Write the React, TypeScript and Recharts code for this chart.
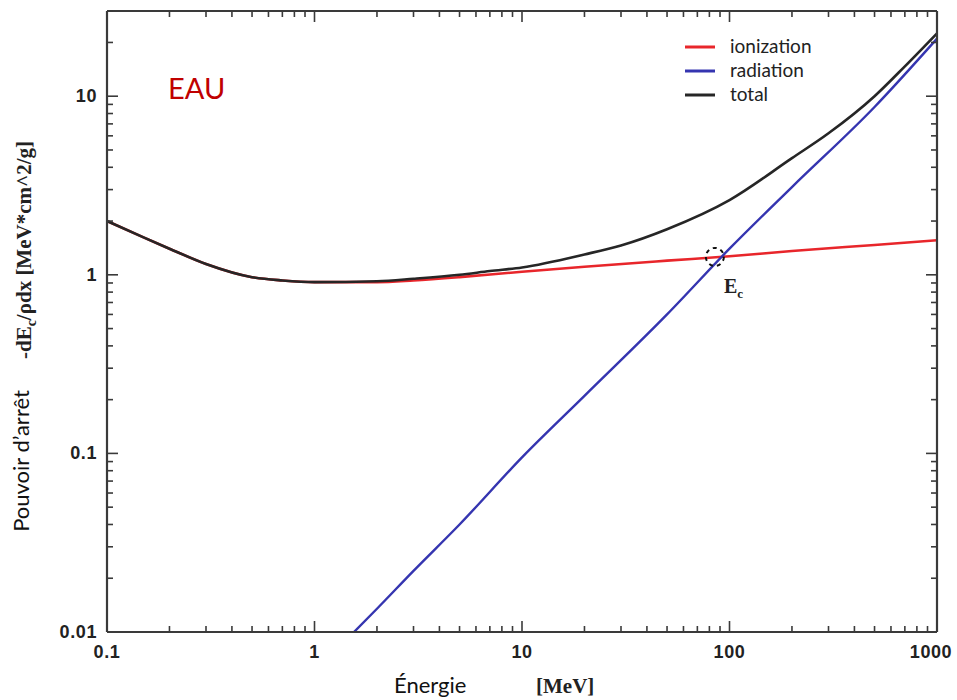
import React from "react";
import {
  Line,
  LineChart,
  ReferenceDot,
  XAxis,
  YAxis,
} from "recharts";

// energy [MeV] / stopping power [MeV cm^2/g]
const ionEnergy = [0.1, 0.15, 0.2, 0.3, 0.5, 0.7, 1, 2, 3, 5, 10, 20, 50, 100, 200, 500, 1000];
const ionValues = [2.0, 1.62, 1.4, 1.15, 0.97, 0.93, 0.91, 0.91, 0.93, 0.97, 1.04, 1.11, 1.2, 1.27, 1.36, 1.47, 1.56];

const radEnergy = [1.55, 2, 3, 5, 10, 20, 50, 100, 200, 500, 1000];
const radValues = [0.01, 0.0135, 0.022, 0.04, 0.095, 0.21, 0.6, 1.4, 3.1, 8.7, 21];

const totEnergy = [0.1, 0.15, 0.2, 0.3, 0.5, 0.7, 1, 2, 3, 5, 7, 10, 20, 30, 50, 100, 200, 300, 500, 700, 1000];
const totValues = [2.0, 1.62, 1.4, 1.15, 0.97, 0.93, 0.91, 0.92, 0.95, 1.0, 1.05, 1.1, 1.3, 1.46, 1.8, 2.62, 4.5, 6.2, 10.0, 14.7, 22.5];

const xMajor = [0.1, 1, 10, 100, 1000];
const yMajor = [0.01, 0.1, 1, 10];
const mantissas = [1, 2, 3, 4, 5, 6, 7, 8, 9];

const ecEnergy = 85;
const ecValue = 1.26;

const xTicks = xMajor.slice(0, -1).flatMap((d) => mantissas.map((m) => +(m * d).toPrecision(3))).concat([1000]);
const yTicks = yMajor.flatMap((d) => mantissas.map((m) => +(m * d).toPrecision(3))).filter((v) => v <= 30);

const toRows = (xs: number[], ys: number[]) => xs.map((e, i) => ({ e, v: ys[i] }));
const ionData = toRows(ionEnergy, ionValues);
const radData = toRows(radEnergy, radValues);
const totData = toRows(totEnergy, totValues);

const AXIS = "#3a3a3a";
const RED = "#e8262b";
const BLUE = "#3535b0";
const BLACK = "#262626";

const isMajor = (v: number, majors: number[]) => majors.some((m) => Math.abs(m - v) < 1e-9);

const tickFont = {
  fontFamily: "'Liberation Sans', Arial, sans-serif",
  fontWeight: 700,
  fontSize: 18,
  fill: "#222",
};

function makeTick(side: "bottom" | "top" | "left" | "right") {
  return (props: any) => {
    const { x, y, payload } = props;
    const v = payload.value as number;
    const horiz = side === "bottom" || side === "top";
    const major = isMajor(v, horiz ? xMajor : yMajor);
    const len = major ? 11 : 6;
    let line;
    if (side === "bottom") line = <line x1={x} x2={x} y1={y} y2={y - len} />;
    else if (side === "top") line = <line x1={x} x2={x} y1={y} y2={y + len} />;
    else if (side === "left") line = <line x1={x} x2={x + len} y1={y} y2={y} />;
    else line = <line x1={x} x2={x - len} y1={y} y2={y} />;
    return (
      <g>
        <g stroke={AXIS} strokeWidth={1.6}>{line}</g>
        {major && side === "bottom" && (
          <text x={Math.min(x, 931)} y={y + 26} textAnchor="middle" {...tickFont} letterSpacing={0.6}>
            {String(v)}
          </text>
        )}
        {major && side === "left" && (
          <text x={x - 10} y={y + 6} textAnchor="end" {...tickFont} letterSpacing={0.6}>
            {String(v)}
          </text>
        )}
      </g>
    );
  };
}

function LegendBox() {
  const items = [
    { name: "ionization", color: RED },
    { name: "radiation", color: BLUE },
    { name: "total", color: BLACK },
  ];
  return (
    <g transform="translate(683,27)">
      {items.map((it, i) => (
        <g key={it.name}>
          <line x1={2} x2={32} y1={20 + i * 24} y2={20 + i * 24} stroke={it.color} strokeWidth={3} />
          <text
            x={47}
            y={20 + i * 24 + 6}
            fontFamily="Lato, sans-serif"
            fontSize={19}
            fill="#222"
          >
            {it.name}
          </text>
        </g>
      ))}
    </g>
  );
}

export default function App() {
  const serif = "'Liberation Serif', 'Times New Roman', serif";
  const axisCommon = {
    dataKey: "e",
    type: "number" as const,
    scale: "log" as const,
    allowDataOverflow: true,
    interval: 0,
    tickSize: 0,
    tickMargin: 0,
    axisLine: { stroke: AXIS, strokeWidth: 2.2 },
  };
  return (
    <div style={{ position: "absolute", left: 0, top: 0, width: 957, height: 700, background: "#fff" }}>
      <LineChart
        width={957}
        height={700}
        margin={{ top: 10, right: 19, bottom: 38, left: 0 }}
      >
        <XAxis
          {...axisCommon}
          domain={[0.1, 1000]}
          ticks={xTicks}
          height={30}
          tick={makeTick("bottom")}
        />
        <XAxis
          {...axisCommon}
          xAxisId="top"
          orientation="top"
          domain={[0.1, 1000]}
          ticks={xTicks}
          height={1}
          tick={makeTick("top")}
        />
        <YAxis
          {...axisCommon}
          dataKey="v"
          domain={[0.01, 30]}
          ticks={yTicks}
          width={107}
          tick={makeTick("left")}
        />
        <YAxis
          {...axisCommon}
          dataKey="v"
          yAxisId="right"
          orientation="right"
          domain={[0.01, 30]}
          ticks={yTicks}
          width={1}
          tick={makeTick("right")}
        />
        {/* invisible copy bound to the top/right axes so they draw their box ticks */}
        <Line
          data={totData}
          dataKey="v"
          xAxisId="top"
          yAxisId="right"
          stroke="none"
          dot={false}
          legendType="none"
          isAnimationActive={false}
        />
        <Line
          data={ionData}
          dataKey="v"
          name="ionization"
          type="monotone"
          stroke={RED}
          strokeWidth={2.6}
          dot={false}
          isAnimationActive={false}
        />
        <Line
          data={radData}
          dataKey="v"
          name="radiation"
          type="monotone"
          stroke={BLUE}
          strokeWidth={2.4}
          dot={false}
          isAnimationActive={false}
        />
        <Line
          data={totData}
          dataKey="v"
          name="total"
          type="monotone"
          stroke={BLACK}
          strokeWidth={2.6}
          dot={false}
          isAnimationActive={false}
        />
        <ReferenceDot
          x={ecEnergy}
          y={ecValue}
          r={9}
          fill="none"
          stroke="#111"
          strokeWidth={2}
          strokeDasharray="4 4"
          ifOverflow="visible"
        />
      </LineChart>
      <svg
        width={957}
        height={700}
        style={{ position: "absolute", left: 0, top: 0, pointerEvents: "none" }}
      >
        <LegendBox />
        <text x={168} y={99} fontFamily="Lato, sans-serif" fontSize={29} fill="#c00000">
          EAU
        </text>
        <text x={724} y={293} fontFamily={serif} fontWeight={700} fontSize={20} fill="#222">
          E
          <tspan fontSize={13} dy={5}>c</tspan>
        </text>
        <text
          transform="translate(29,461) rotate(-90)"
          textAnchor="middle"
          fontFamily="Lato, sans-serif"
          fontSize={22}
          fill="#111"
        >
          Pouvoir d’arrêt
        </text>
        <text
          transform="translate(31,250) rotate(-90)"
          textAnchor="middle"
          fontFamily={serif}
          fontWeight={700}
          fontSize={21}
          fill="#222"
        >
          -dE<tspan fontSize={14} dy={5}>c</tspan>
          <tspan dy={-5}>/ρdx [MeV*cm^2/g]</tspan>
        </text>
        <text x={394} y={693} fontFamily="Lato, sans-serif" fontSize={22} fill="#111">
          Énergie
        </text>
        <text x={536} y={693} fontFamily={serif} fontWeight={700} fontSize={21} fill="#222">
          [MeV]
        </text>
      </svg>
    </div>
  );
}
